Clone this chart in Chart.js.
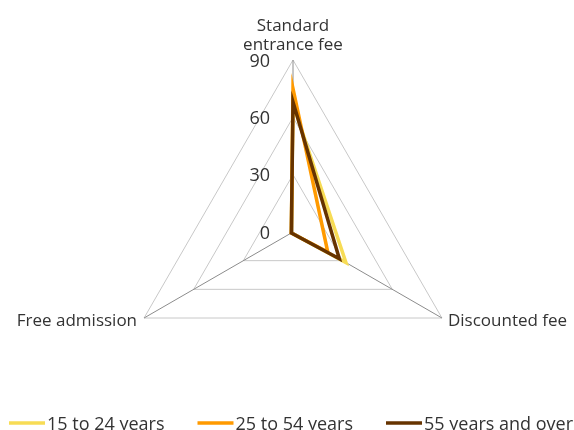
<!DOCTYPE html>
<html>
<head>
<meta charset="utf-8">
<script src="https://cdn.jsdelivr.net/npm/chart.js@4/dist/chart.umd.min.js"></script>
<style>
html,body{margin:0;padding:0;background:#fff;}
#wrap{width:574px;height:430px;position:relative;}
</style>
</head>
<body>
<div id="wrap"><canvas id="c"></canvas></div>
<script>
const categories = [["Standard", "entrance fee"], "Discounted fee", "Free admission"];
const seriesNames = ["15 to 24 years", "25 to 54 years", "55 years and over"];
const age15to24 = [67, 32, 1];
const age25to54 = [75, 21, 1];
const age55plus = [68, 28, 1];
const tickValues = [0, 30, 60, 90];
const colors = ["#F7DC55", "#FF9A00", "#663300"];

const FONT = "'Open Sans', sans-serif";
const TEXT = "#333333";

const geometryPlugin = {
  id: 'geometry',
  afterLayout(chart) {
    const s = chart.scales.r;
    s.xCenter = 293;
    s.yCenter = 232;
    s.drawingArea = 172;
  }
};

const textPlugin = {
  id: 'texts',
  afterDraw(chart) {
    const s = chart.scales.r;
    const ctx = chart.ctx;
    ctx.save();
    ctx.fillStyle = TEXT;
    // tick labels
    ctx.font = "18px " + FONT;
    ctx.textAlign = "right";
    ctx.textBaseline = "alphabetic";
    tickValues.forEach(v => {
      const d = s.getDistanceFromCenterForValue(v);
      ctx.fillText(String(v), s.xCenter - 23, s.yCenter - d + 6.5);
    });
    // point labels
    ctx.font = "17px " + FONT;
    categories.forEach((lab, i) => {
      const p = s.getPointPosition(i, s.drawingArea);
      if (i === 0) {
        ctx.textAlign = "center";
        const lines = Array.isArray(lab) ? lab : [lab];
        lines.forEach((ln, k) => {
          ctx.fillText(ln, p.x, p.y - 10 - (lines.length - 1 - k) * 19);
        });
      } else if (i === 1) {
        ctx.textAlign = "left";
        ctx.fillText(lab, p.x + 6, p.y + 8);
      } else {
        ctx.textAlign = "right";
        ctx.fillText(lab, p.x - 7, p.y + 8);
      }
    });
    // legend
    ctx.font = "18px " + FONT;
    ctx.textAlign = "left";
    const y = 423;
    let x = 9;
    chart.data.datasets.forEach((ds, i) => {
      ctx.strokeStyle = ds.borderColor;
      ctx.lineWidth = 3.5;
      ctx.beginPath();
      ctx.moveTo(x, y);
      ctx.lineTo(x + 36, y);
      ctx.stroke();
      ctx.fillText(ds.label, x + 38, y + 6.5);
      x += 38 + ctx.measureText(ds.label).width + 33;
    });
    ctx.restore();
  }
};

new Chart(document.getElementById('c'), {
  type: 'radar',
  data: {
    labels: categories,
    datasets: [
      {label: seriesNames[0], data: age15to24, borderColor: colors[0], backgroundColor: colors[0], order: 2},
      {label: seriesNames[1], data: age25to54, borderColor: colors[1], backgroundColor: colors[1], order: 1},
      {label: seriesNames[2], data: age55plus, borderColor: colors[2], backgroundColor: colors[2], order: 0}
    ]
  },
  options: {
    responsive: true,
    maintainAspectRatio: false,
    animation: false,
    elements: {
      line: {borderWidth: 3.5, fill: false, tension: 0, borderJoinStyle: 'miter'},
      point: {radius: 0, hitRadius: 0, hoverRadius: 0}
    },
    scales: {
      r: {
        min: 0, max: 90,
        ticks: {stepSize: 30, display: false},
        grid: {color: "#c8c8c8", lineWidth: 1},
        angleLines: {color: "#8c8c8c", lineWidth: 1},
        pointLabels: {display: false}
      }
    },
    plugins: {
      tooltip: {enabled: false},
      legend: {display: false}
    }
  },
  plugins: [geometryPlugin, textPlugin]
});
</script>
</body>
</html>
